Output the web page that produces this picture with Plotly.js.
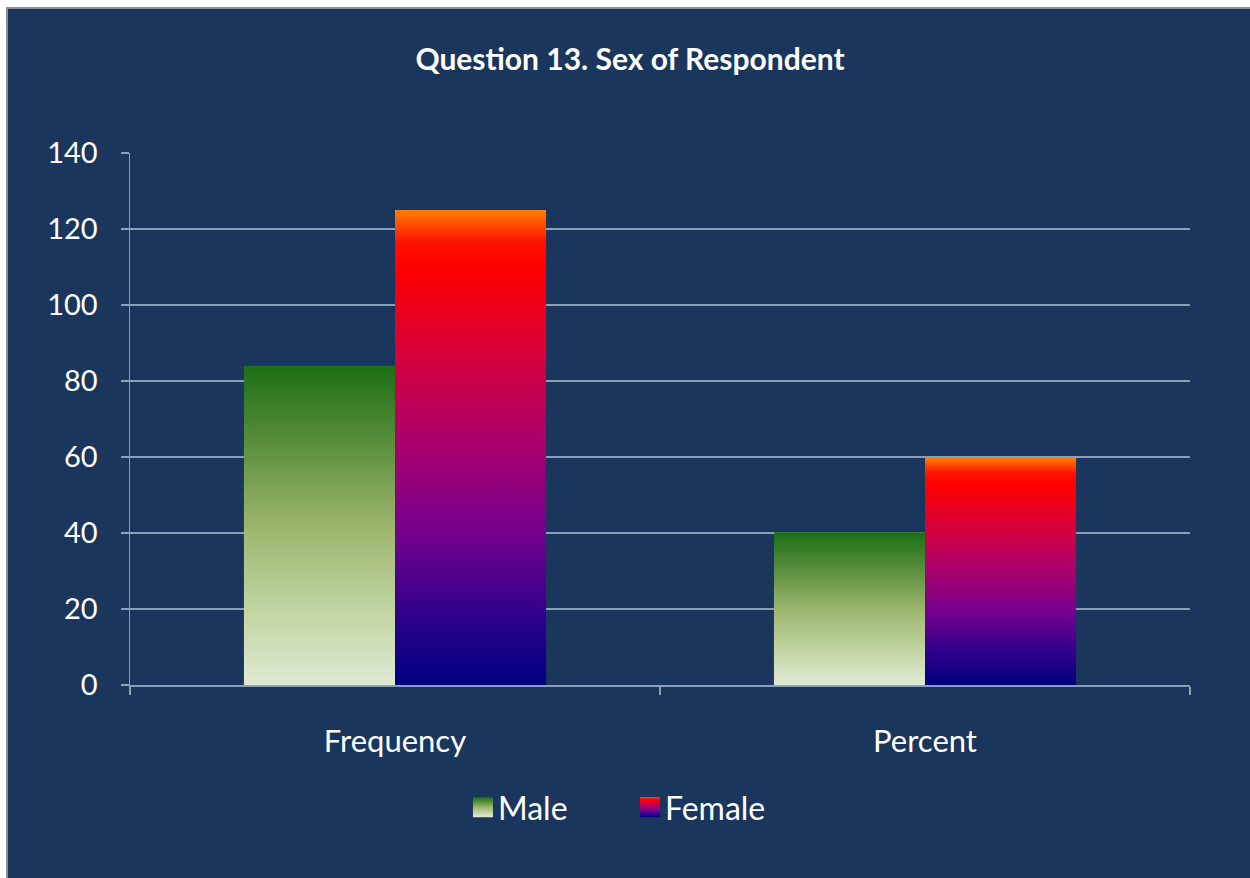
<!DOCTYPE html>
<html>
<head>
<meta charset="utf-8">
<script src="https://cdn.plot.ly/plotly-3.0.1.min.js"></script>
<style>
  html, body { margin: 0; padding: 0; background: #ffffff; width: 1250px; height: 878px; overflow: hidden; }
  #frame { position: absolute; left: 6px; top: 7px; width: 1244px; height: 871px;
           border-left: 2px solid #8a8f96; border-top: 2px solid #8a8f96; background: #1a365c; }
  #plot { position: absolute; left: 0; top: 0; width: 1244px; height: 871px; }
</style>
</head>
<body>
<div id="frame"><div id="plot"></div></div>
<script>
// ---- data ----
const categories = ["Frequency", "Percent"];
const seriesNames = ["Male", "Female"];
const maleValues = [84, 40.2];
const femaleValues = [125, 59.8];
const yTickValues = [0, 20, 40, 60, 80, 100, 120, 140];
const chartTitle = "Question 13. Sex of Respondent";

const FONT = "Lato, 'Open Sans', 'DejaVu Sans', sans-serif";
const gridColor = "#8b9fb8";

const traces = [
  { type: "bar", name: seriesNames[0], x: categories, y: maleValues,
    marker: { color: "#8fae63", line: { width: 0 } }, hoverinfo: "x+y+name" },
  { type: "bar", name: seriesNames[1], x: categories, y: femaleValues,
    marker: { color: "#a0007a", line: { width: 0 } }, hoverinfo: "x+y+name" }
];

const layout = {
  width: 1244, height: 871,
  paper_bgcolor: "#1a365c",
  plot_bgcolor: "#1a365c",
  margin: { l: 122, r: 62, t: 144, b: 195 },
  barmode: "group",
  bargap: 0.43,
  bargroupgap: 0,
  showlegend: true,
  title: { text: "<b>" + chartTitle + "</b>", x: 0.5, xanchor: "center", y: 0.9415, yanchor: "middle",
           font: { family: FONT, size: 30, color: "#ffffff" } },
  font: { family: FONT, color: "#ffffff" },
  xaxis: {
    type: "category",
    tickson: "boundaries",
    ticks: "outside", ticklen: 8, tickcolor: gridColor, tickwidth: 1.5,
    showline: true, linecolor: gridColor, linewidth: 1.5,
    showgrid: false,
    tickfont: { family: FONT, size: 31, color: "#ffffff" },
    ticklabelstandoff: 28,
    fixedrange: true
  },
  yaxis: {
    range: [0, 140],
    tickvals: yTickValues,
    ticktext: yTickValues.map(String),
    ticks: "outside", ticklen: 8, tickcolor: gridColor, tickwidth: 1.5,
    showline: true, linecolor: gridColor, linewidth: 1.5,
    showgrid: true, gridcolor: gridColor, gridwidth: 1.5,
    zeroline: false,
    tickfont: { family: FONT, size: 29, color: "#ffffff" },
    ticklabelstandoff: 17,
    fixedrange: true
  },
  legend: {
    orientation: "h", x: 0.3094, xanchor: "left", y: -0.23, yanchor: "middle",
    font: { family: FONT, size: 32, color: "#ffffff" },
    bgcolor: "rgba(0,0,0,0)",
    itemwidth: 30,
    entrywidth: 122, entrywidthmode: "pixels"
  }
};

const gradients = {
  gradMale: [
    [0, "#1c6e17"], [0.25, "#5b8f3e"], [0.5, "#9cb56d"], [0.75, "#bfd39e"], [1, "#dfead3"]
  ],
  gradFemale: [
    [0, "#ff7f00"], [0.07, "#ff1000"], [0.12, "#ff0000"], [0.3, "#d8003a"], [0.5, "#a8006e"],
    [0.7, "#6e0090"], [0.85, "#30008a"], [1, "#000080"]
  ]
};

function applyGradients(gd) {
  const svg = gd.querySelector("svg.main-svg");
  if (!svg) return;
  const ns = "http://www.w3.org/2000/svg";
  let defs = svg.querySelector("defs#customgrad");
  if (!defs) {
    defs = document.createElementNS(ns, "defs");
    defs.setAttribute("id", "customgrad");
    Object.keys(gradients).forEach(id => {
      const lg = document.createElementNS(ns, "linearGradient");
      lg.setAttribute("id", id);
      lg.setAttribute("x1", "0"); lg.setAttribute("y1", "0");
      lg.setAttribute("x2", "0"); lg.setAttribute("y2", "1");
      gradients[id].forEach(([o, c]) => {
        const st = document.createElementNS(ns, "stop");
        st.setAttribute("offset", o);
        st.setAttribute("stop-color", c);
        lg.appendChild(st);
      });
      defs.appendChild(lg);
    });
    svg.insertBefore(defs, svg.firstChild);
  }
  const ids = ["gradMale", "gradFemale"];
  gd.querySelectorAll(".barlayer .trace").forEach((tr, i) => {
    tr.querySelectorAll("path").forEach(p => { p.style.fill = "url(#" + ids[i] + ")"; });
  });
  gd.querySelectorAll(".legend .traces").forEach((tr, i) => {
    tr.querySelectorAll(".legendpoints path").forEach(p => {
      p.setAttribute("d", "M-5,-10h20v20h-20z");
      p.style.fill = "url(#" + ids[i] + ")";
      p.style.stroke = "none";
    });
  });
}

const gd = document.getElementById("plot");
Plotly.newPlot(gd, traces, layout, { displayModeBar: false, staticPlot: true }).then(() => {
  applyGradients(gd);
  gd.on && gd.on("plotly_afterplot", () => applyGradients(gd));
});
</script>
</body>
</html>
